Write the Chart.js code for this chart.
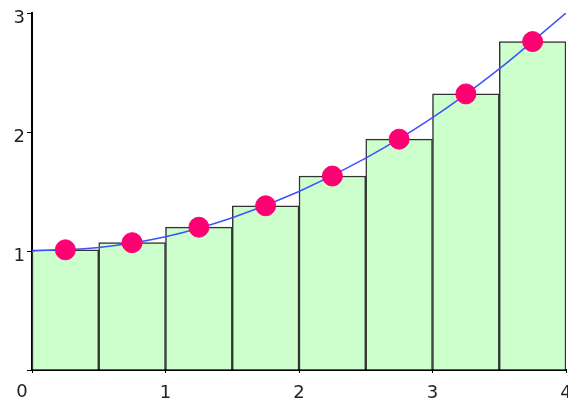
<!DOCTYPE html>
<html>
<head>
<meta charset="utf-8">
<script src="https://cdn.jsdelivr.net/npm/chart.js@4"></script>
<style>
html,body{margin:0;padding:0;background:#fff;}
#wrap{width:568px;height:401px;}
</style>
</head>
<body>
<div id="wrap"><canvas id="c"></canvas></div>
<script>
// Midpoint rectangles
const barMidpoints = [0.25, 0.75, 1.25, 1.75, 2.25, 2.75, 3.25, 3.75];
const barHeights   = [1.01, 1.07, 1.20, 1.38, 1.63, 1.94, 2.32, 2.76];
// Smooth curve, read at half-unit steps
const curveX = [0, 0.5, 1, 1.5, 2, 2.5, 3, 3.5, 4];
const curveY = [1.00, 1.03, 1.12, 1.28, 1.50, 1.78, 2.12, 2.53, 3.00];
// Tick labels
const xTickValues = [0, 1, 2, 3, 4];
const yTickValues = [0, 1, 2, 3];
const cornerLabel = "0";

const font = {family: "DejaVu Sans", size: 18};

const cornerPlugin = {
  id: 'corner',
  afterDraw(chart) {
    const ctx = chart.ctx;
    const xs = chart.scales.x, ys = chart.scales.y;
    ctx.save();
    ctx.font = font.size + "px " + font.family;
    ctx.fillStyle = "#222";
    ctx.textAlign = "center";
    ctx.textBaseline = "middle";
    ctx.fillText(cornerLabel, xs.getPixelForValue(0) - 10, ys.getPixelForValue(0) + 22);
    ctx.restore();
  }
};

new Chart(document.getElementById('c'), {
  data: {
    datasets: [
      {
        type: 'scatter',
        data: barMidpoints.map((x, i) => ({x, y: barHeights[i]})),
        pointRadius: 10,
        pointHoverRadius: 10,
        pointBackgroundColor: '#ff0073',
        pointBorderColor: '#ff0073',
        order: 0
      },
      {
        type: 'line',
        data: curveX.map((x, i) => ({x, y: curveY[i]})),
        borderColor: '#4050ff',
        borderWidth: 1.5,
        pointRadius: 0,
        cubicInterpolationMode: 'monotone',
        fill: false,
        order: 1
      },
      {
        type: 'bar',
        data: barMidpoints.map((x, i) => ({x, y: barHeights[i]})),
        backgroundColor: '#ccffcc',
        borderColor: '#333',
        borderWidth: 1.5,
        barPercentage: 1,
        categoryPercentage: 1,
        grouped: false,
        order: 2
      }
    ]
  },
  options: {
    responsive: true,
    maintainAspectRatio: false,
    animation: false,
    layout: {autoPadding: false, padding: {top: 13, right: 2, left: 0, bottom: 0}},
    plugins: {legend: {display: false}, tooltip: {enabled: false}},
    scales: {
      x: {
        type: 'linear',
        min: 0, max: 4,
        offset: false,
        afterBuildTicks: s => { s.ticks = xTickValues.map(v => ({value: v})); },
        ticks: {
          callback: v => v === 0 ? '' : String(v),
          font, color: '#222', padding: 10, maxRotation: 0, autoSkip: false
        },
        grid: {drawOnChartArea: false, offset: false, color: '#000', tickLength: 3},
        border: {color: '#000', width: 2},
        afterFit: s => { s.height = 31; s.paddingLeft = 0; s.paddingRight = 0; }
      },
      y: {
        type: 'linear',
        min: 0, max: 3,
        afterBuildTicks: s => { s.ticks = yTickValues.map(v => ({value: v})); },
        ticks: {
          callback: v => v === 0 ? '' : String(v),
          font, color: '#222', padding: 2, labelOffset: 5
        },
        grid: {drawOnChartArea: false, color: '#000', tickLength: 5},
        border: {color: '#000', width: 2},
        afterFit: s => { s.width = 32; s.paddingTop = 0; s.paddingBottom = 0; }
      }
    }
  },
  plugins: [cornerPlugin]
});
</script>
</body>
</html>
